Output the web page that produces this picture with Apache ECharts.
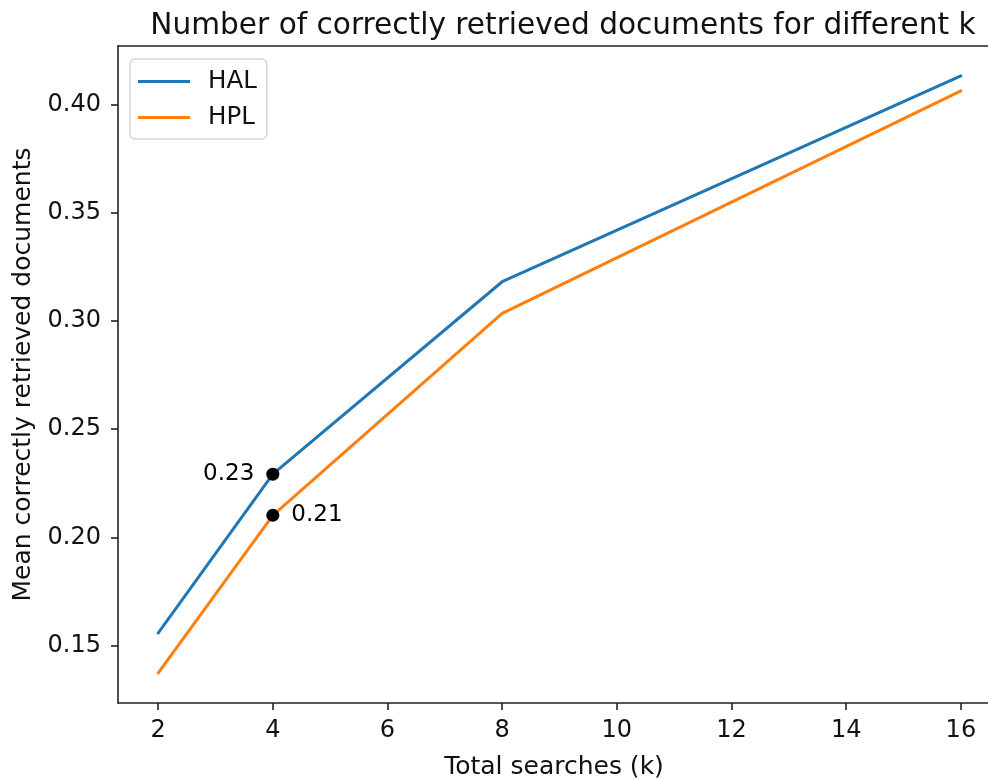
<!DOCTYPE html>
<html>
<head>
<meta charset="utf-8">
<script src="https://cdn.jsdelivr.net/npm/echarts@6/dist/echarts.min.js"></script>
<style>
  html, body { margin: 0; padding: 0; background: #fff; }
  #chart { width: 988px; height: 780px; }
</style>
</head>
<body>
<div id="chart"></div>
<script>
// Total searches k
const kValues = [2, 4, 8, 16];
// Mean correctly retrieved documents per method
const halValues = [0.1557, 0.2292, 0.3182, 0.4134];
const hplValues = [0.1372, 0.2102, 0.3036, 0.4065];
// Tick positions
const xTicks = [2, 4, 6, 8, 10, 12, 14, 16];
const yTicks = [0.15, 0.20, 0.25, 0.30, 0.35, 0.40];
// Highlighted k
const markK = 4;

const FONT = 'DejaVu Sans';
const INK = '#111';

// 5% padding on both axes around the data extent
function padded(vals) {
  const lo = Math.min(...vals), hi = Math.max(...vals);
  const m = (hi - lo) * 0.05;
  return [lo - m, hi + m];
}
const [xMin, xMaxFull] = padded(kValues);
const [yMin, yMax] = padded(halValues.concat(hplValues));

// The plot area runs past the right edge of the canvas; only the visible part is drawn.
const GRID_LEFT = 118, FULL_WIDTH = 881, CANVAS_W = 988;
const visWidth = CANVAS_W - GRID_LEFT;
const xMax = xMin + (xMaxFull - xMin) * visWidth / FULL_WIDTH;

const idx = kValues.indexOf(markK);

const chart = echarts.init(document.getElementById('chart'), null, { renderer: 'canvas' });

const lineStyle = { color: '#222', width: 1.6 };

chart.setOption({
  animation: false,
  backgroundColor: '#fff',
  title: {
    text: 'Number of correctly retrieved documents for different k',
    left: 558, top: 6, textAlign: 'center',
    textStyle: { fontFamily: FONT, fontSize: 29.6, fontWeight: 'normal', color: INK }
  },
  grid: {
    left: GRID_LEFT, top: 46, width: visWidth + 2, height: 657, show: false,
    containLabel: false, outerBoundsMode: 'none'
  },
  legend: {
    orient: 'vertical',
    left: 130, top: 59,
    padding: [10, 10, 9, 8],
    itemGap: 11,
    itemWidth: 52, itemHeight: 3,
    icon: 'rect',
    borderColor: '#d6d6d6', borderWidth: 1.5, borderRadius: 5,
    backgroundColor: 'rgba(255,255,255,0.8)',
    textStyle: { fontFamily: FONT, fontSize: 24.5, color: INK, padding: [0, 0, 0, 13] },
    data: ['HAL', 'HPL']
  },
  xAxis: [
    {
      type: 'value', min: xMin, max: xMax,
      name: 'Total searches (k)', nameLocation: 'middle', nameGap: 52,
      nameTextStyle: { color: INK, fontFamily: FONT, fontSize: 25 },
      axisLine: { show: true, onZero: false, lineStyle },
      axisTick: { show: true, length: 7, lineStyle, customValues: xTicks },
      axisLabel: { color: INK, fontFamily: FONT, fontSize: 24, margin: 16, customValues: xTicks },
      splitLine: { show: false }
    },
    {
      // top border of the plot frame
      type: 'value', position: 'top', min: xMin, max: xMax,
      axisLine: { show: true, onZero: false, lineStyle },
      axisTick: { show: false }, axisLabel: { show: false }, splitLine: { show: false }
    }
  ],
  yAxis: {
    type: 'value', min: yMin, max: yMax,
    name: 'Mean correctly retrieved documents', nameLocation: 'middle', nameGap: 82, nameRotate: 90,
    nameTextStyle: { color: INK, fontFamily: FONT, fontSize: 25 },
    axisLine: { show: true, onZero: false, lineStyle },
    axisTick: { show: true, length: 7, lineStyle, customValues: yTicks },
    axisLabel: { color: INK, fontFamily: FONT, fontSize: 24, margin: 17, customValues: yTicks, formatter: v => v.toFixed(2) },
    splitLine: { show: false }
  },
  series: [
    {
      name: 'HAL', type: 'line', color: '#1f77b4',
      data: kValues.map((k, i) => [k, halValues[i]]),
      showSymbol: false, symbol: 'none',
      lineStyle: { width: 3, color: '#1f77b4', cap: 'round', join: 'round' }
    },
    {
      name: 'HPL', type: 'line', color: '#ff7f0e',
      data: kValues.map((k, i) => [k, hplValues[i]]),
      showSymbol: false, symbol: 'none',
      lineStyle: { width: 3, color: '#ff7f0e', cap: 'round', join: 'round' }
    },
    {
      name: 'markHAL', type: 'scatter', z: 5,
      symbolSize: 13, itemStyle: { color: '#000', opacity: 1 },
      emphasis: { disabled: true },
      data: [[markK, halValues[idx]]],
      label: {
        show: true, position: 'left', distance: 12,
        fontFamily: FONT, fontSize: 23, color: '#000',
        formatter: p => p.value[1].toFixed(2)
      }
    },
    {
      name: 'markHPL', type: 'scatter', z: 5,
      symbolSize: 13, itemStyle: { color: '#000', opacity: 1 },
      emphasis: { disabled: true },
      data: [[markK, hplValues[idx]]],
      label: {
        show: true, position: 'right', distance: 12,
        fontFamily: FONT, fontSize: 23, color: '#000',
        formatter: p => p.value[1].toFixed(2)
      }
    }
  ]
});
</script>
</body>
</html>
